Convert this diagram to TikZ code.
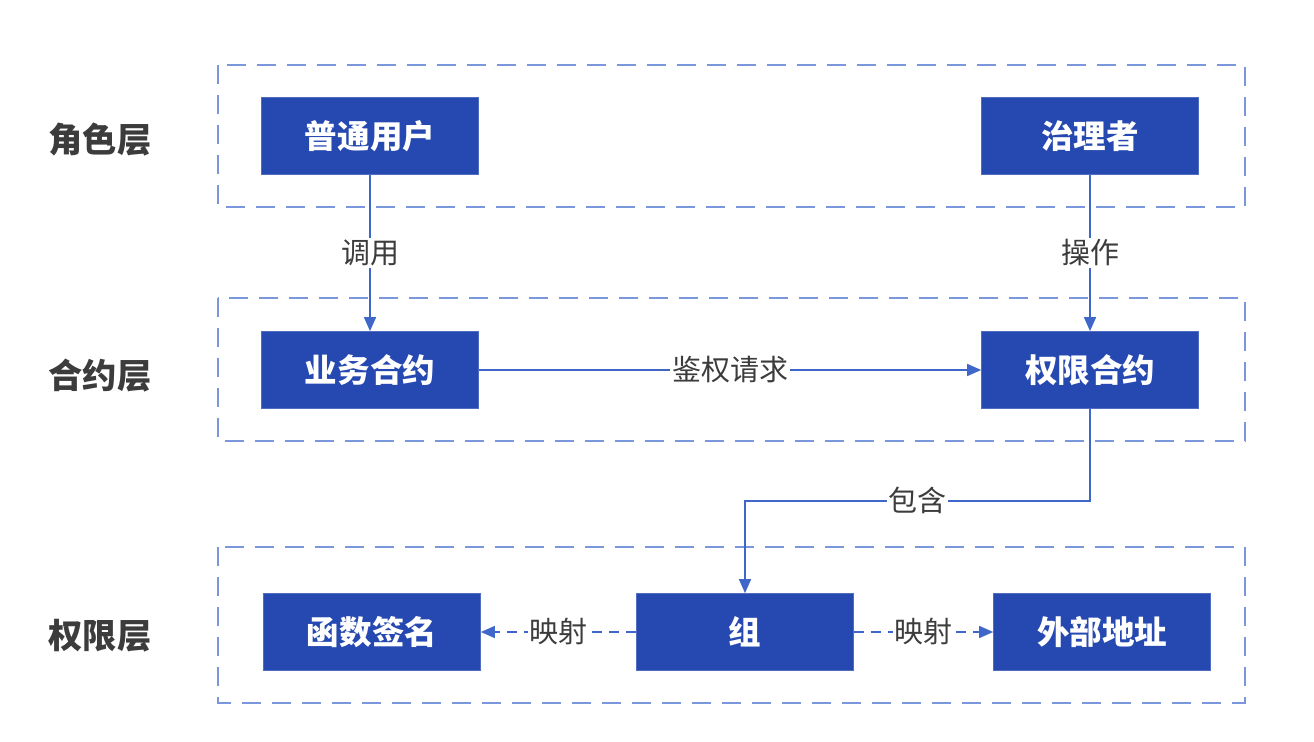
\documentclass[tikz,border=0pt]{standalone}
\usepackage{fontspec}
\setmainfont{Noto Sans CJK SC}
\usetikzlibrary{arrows.meta}
\definecolor{boxblue}{HTML}{2549B1}
\definecolor{lineblue}{HTML}{3F66C9}
\definecolor{frameblue}{HTML}{7B97DC}
\definecolor{labelgray}{HTML}{3C3C3C}
\tikzset{
    layer frame/.style = {draw=frameblue, line width=0.045cm, dash pattern=on 0.38cm off 0.22cm},
    role box/.style = {fill=boxblue, draw=boxblue!80, text=white, inner sep=0pt,
        minimum width=4.34cm, minimum height=1.54cm, font=\bfseries\fontsize{18.5}{22}\selectfont},
    layer label/.style = {text=labelgray, font=\bfseries\fontsize{19.5}{23}\selectfont},
    edge label/.style = {fill=white, text=labelgray, inner sep=1pt, font=\fontsize{16.5}{20}\selectfont},
}
\tikzset{
    link/.style = {draw=lineblue, line width=0.03cm, -{Triangle[length=0.28cm, width=0.24cm]}},
    map link/.style = {link, dash pattern=on 0.2cm off 0.14cm},
}

\begin{document}
\begin{tikzpicture}[x=0.02cm, y=-0.02cm]
            \useasboundingbox (0, 0) rectangle (1314, 742);

            \draw[layer frame] (218, 65) rectangle (1245, 207);
            \draw[layer frame] (218, 298) rectangle (1245, 441);
            \draw[layer frame] (218, 547) rectangle (1245, 703);

            \node[layer label] (roles) at (100, 140) {角色层};
            \node[layer label] (contracts) at (100, 376) {合约层};
            \node[layer label] (perms) at (100, 636) {权限层};

            \node[role box] (user) at (370, 136) {普通用户};
            \node[role box] (gov) at (1090, 136) {治理者};
            \node[role box] (biz) at (370, 370) {业务合约};
            \node[role box] (auth) at (1090, 370) {权限合约};
            \node[role box] (sig) at (372, 632) {函数签名};
            \node[role box] (grp) at (745, 632) {组};
            \node[role box] (addr) at (1102, 632) {外部地址};

            \draw[link] (user) -- node[edge label] {调用} (biz);
            \draw[link] (gov) -- node[edge label] {操作} (auth);
            \draw[link] (biz) -- node[edge label] {鉴权请求} (auth);
            \draw[link] (auth.south) -- ++(0, 92) -| node[edge label, pos=0.25] {包含} (grp.north);
            \draw[map link] (grp) -- node[edge label] {映射} (sig);
            \draw[map link] (grp) -- node[edge label] {映射} (addr);
        \end{tikzpicture}
\end{document}
